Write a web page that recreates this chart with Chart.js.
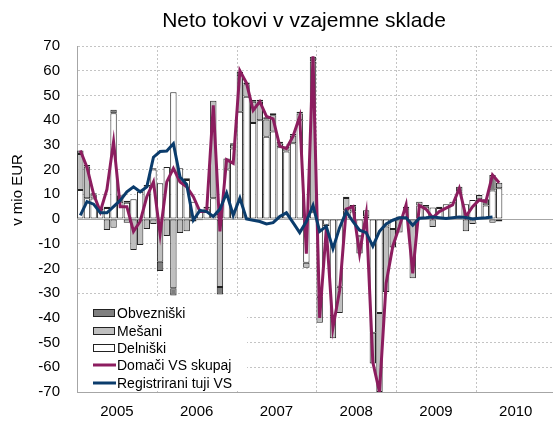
<!DOCTYPE html>
<html>
<head>
<meta charset="utf-8">
<script src="https://cdn.jsdelivr.net/npm/chart.js@4.4.1/dist/chart.umd.min.js"></script>
<style>
  html, body { margin: 0; padding: 0; background: #fff; overflow: hidden; }
  #wrap { position: relative; width: 553px; height: 427px; }
</style>
</head>
<body>
<div id="wrap"><canvas id="c" width="553" height="427"></canvas></div>
<script>
/* ---- podatki (mesečno, jan 2005 - apr 2010, mio EUR) ---- */
const years = ["2005", "2006", "2007", "2008", "2009", "2010"];

const delniski = [
  11.7, 8.4, 8.3, 3.5, 4.5, 42.8, 7, 6.6, 8, 11,
  13.3, 20, 14.5, 21, 51.3, 20.5, 15.8, 7, 3, 4.2,
  8.4, 2, 20, 28.5, 43.4, 49.5, 38.8, 40, 33.3, 35.4,
  29, 27.3, 30.6, 40, -17.7, 2.7, -31.5, -2.3, -39.3, -27.4,
  3.5, 3, -7, 1, -46, -38, -3, -4, 1, 4.3,
  null, 5.5, 5, 4.7, 4.5, 6, 7, 11, 6, 7.7,
  8, 5.5, 11.5, 12.4
];
const mesani = [
  14.6, 12.8, 1.6, 0.8, -4.5, -3.5, 2.5, -1.5, -12.5, -10.5,
  -4, -2, -17.3, -6.9, -28, -5.7, -5, -1, -0.5, 0.8,
  39.4, -27.5, 4.5, 1.5, 15, 5, 8.6, 7.5, 7, 6.6,
  1.6, 1.3, 3.2, 2.7, -2, 61, -10.5, -0.5, -9, -10.6,
  5, 2.2, -7, 2.5, -12.5, -32, -26.5, -7.5, -5.5, null,
  -24, 1.5, null, -3.2, 0.5, null, null, null, -5, -2,
  1.7, null, -1.5, 2.3
];
const obvezniski = [
  1.4, 0.7, 0.5, 0.3, 0.5, 1.4, 0.3, 0.8, null, null,
  0.5, 0.5, -3.7, null, -3, null, 0.7, null, null, null,
  null, -3, null, 0.6, 1.2, 0.7, 0.8, 0.8, 0.9, 0.8,
  0.7, 0.7, 0.6, 0.7, null, 2, null, null, null, null,
  0.5, 0.5, null, null, null, null, null, null, null, 0.7,
  null, null, 0.7, null, null, null, null, 2, null, null,
  null, 2.5, 6.3, -1
];
const domaciVS = [
  27.7, 21, 10, 3, 12, 31.3, 5, 5, -5, -1,
  9, 15, -6, 15, 20.5, 15, 13, 9, 3, 3,
  46, -5, 24, 22.5, 60, 55, 44, 47.5, 41.5, 40.5,
  29.5, 28.5, 33.5, 41.5, -14, 65.8, -40, -4, -44, -29,
  4, 5, -14, 2, -58, -70, -26, -11, -3, 5.7,
  -22, 5.5, 4, 0.5, 3, 4.4, 5.7, 12.4, 1, 5,
  7.7, 7, 17.8, 14.7
];
const tujiVS = [
  1.5, 7, 6, 2.5, 2.5, 5, 7.5, 11, 13, 11,
  13, 25, 27.3, 27.5, 30.5, 17, 14, -0.5, 3.5, 3,
  1, 4, 10.5, 1.5, 8.5, 0, -0.5, -1, -2, -1.5,
  1, 2.5, -1.5, -5.5, -1, 5.5, -5, -3, -12, -3.5,
  3, -1, -4.5, -5.5, -11, -5, -2, -0.5, 0.5, 0.5,
  -2.5, 0.3, 0.5, 0.8, 0.5, 0.2, 0.5, 0.8, 0.6, 0,
  0.3, 0.5, 0.8
];

const yMin = -70, yMax = 70, yStep = 10;

const FONT = "'Liberation Sans', Arial, sans-serif";
const C_PURPLE = "#8c1d5f";
const C_BLUE = "#0b3c6c";
const C_GRID = "#c4c4c4";

// meseci -> točke {x, y}
const pts = arr => arr.map((v, i) => ({ x: i, y: v }));

// meje let (navpična mreža) in sredine let (oznake)
const yearBounds = years.map((_, k) => k * 12 - 0.5);
const yearCenters = years.map((_, k) => k * 12 + 5.5);

/* ---- dodatki: naslov, os Y, mreža let, ničelna črta, legenda ---- */
const deco = {
  id: "deco",
  beforeDatasetsDraw(chart) {
    const { ctx, chartArea: a, scales: { x, y } } = chart;
    ctx.save();
    // navpične črte med leti
    ctx.strokeStyle = C_GRID;
    ctx.lineWidth = 1;
    ctx.setLineDash([2, 2]);
    yearBounds.slice(1).forEach(v => {
      const px = Math.round(x.getPixelForValue(v)) + 0.5;
      ctx.beginPath();
      ctx.moveTo(px, a.top);
      ctx.lineTo(px, a.bottom);
      ctx.stroke();
    });
    // ničelna črta
    ctx.setLineDash([]);
    const y0 = Math.round(y.getPixelForValue(0)) + 0.5;
    ctx.strokeStyle = "#a6a6a6";
    ctx.beginPath();
    ctx.moveTo(a.left, y0);
    ctx.lineTo(a.right, y0);
    ctx.stroke();
    ctx.restore();
  },
  afterDatasetsDraw(chart) {
    const ctx = chart.ctx;
    ctx.save();
    ctx.fillStyle = "#fff";
    ctx.fillRect(78, 297, 169, 94);

    const items = [
      { t: "Obvezniški", type: "box", fill: "#7f7f7f" },
      { t: "Mešani", type: "box", fill: "#bfbfbf" },
      { t: "Delniški", type: "box", fill: "#ffffff" },
      { t: "Domači VS skupaj", type: "line", col: C_PURPLE },
      { t: "Registrirani tuji VS", type: "line", col: C_BLUE }
    ];
    const rows = [313, 331, 348, 365, 383];
    ctx.font = "14px " + FONT;
    ctx.textBaseline = "middle";
    ctx.textAlign = "left";
    items.forEach((it, i) => {
      const cy = rows[i];
      if (it.type === "box") {
        ctx.fillStyle = it.fill;
        ctx.fillRect(93.5, cy - 3.5, 21, 7);
        ctx.strokeStyle = "#222";
        ctx.lineWidth = 1;
        ctx.strokeRect(93.5, cy - 3.5, 21, 7);
      } else {
        ctx.strokeStyle = it.col;
        ctx.lineWidth = 3;
        ctx.beginPath();
        ctx.moveTo(93, cy);
        ctx.lineTo(116, cy);
        ctx.stroke();
      }
      ctx.fillStyle = "#000";
      ctx.fillText(it.t, 117, cy + 1);
    });
    ctx.restore();
  },
  afterDraw(chart) {
    const ctx = chart.ctx;
    ctx.save();
    ctx.fillStyle = "#000";
    ctx.textAlign = "center";
    ctx.textBaseline = "middle";
    ctx.font = "21px " + FONT;
    ctx.fillText("Neto tokovi v vzajemne sklade", 304, 21);

    ctx.translate(18, 190);
    ctx.rotate(-Math.PI / 2);
    ctx.font = "15px " + FONT;
    ctx.fillText("v mio EUR", 0, 0);
    ctx.restore();
  }
};

const barBase = {
  type: "bar",
  stack: "skladi",
  borderColor: "#222",
  borderWidth: 1,
  borderSkipped: false,
  categoryPercentage: 0.96,
  barPercentage: 1
};

new Chart(document.getElementById("c"), {
  type: "bar",
  data: {
    datasets: [
      {
        type: "line", label: "Registrirani tuji VS", stack: "l2",
        data: pts(tujiVS), borderColor: C_BLUE, borderWidth: 3,
        pointRadius: 0, tension: 0, fill: false
      },
      {
        type: "line", label: "Domači VS skupaj", stack: "l1",
        data: pts(domaciVS), borderColor: C_PURPLE, borderWidth: 3,
        pointRadius: 0, tension: 0, fill: false
      },
      { ...barBase, label: "Delniški", data: pts(delniski), backgroundColor: "#ffffff" },
      { ...barBase, label: "Mešani", data: pts(mesani), backgroundColor: "#bfbfbf" },
      { ...barBase, label: "Obvezniški", data: pts(obvezniski), backgroundColor: "#7f7f7f" }
    ]
  },
  options: {
    responsive: false,
    devicePixelRatio: 1,
    animation: false,
    events: [],
    layout: { padding: { top: 46, right: 0, bottom: 0, left: 0 } },
    plugins: {
      legend: { display: false },
      title: { display: false },
      tooltip: { enabled: false }
    },
    scales: {
      x: {
        type: "linear",
        stacked: true,
        min: -0.5,
        max: 71.1,
        offset: false,
        afterBuildTicks: s => {
          s.ticks = yearCenters.map(v => ({ value: v }));
        },
        afterFit: s => { s.height = 35; },
        ticks: {
          autoSkip: false,
          maxRotation: 0,
          padding: 11,
          color: "#000",
          font: { family: FONT, size: 15 },
          callback: v => {
            const k = yearCenters.indexOf(v);
            return k >= 0 ? years[k] : "";
          }
        },
        grid: { display: false, offset: false, drawTicks: false },
        border: { display: true, color: "#a6a6a6", width: 1 }
      },
      y: {
        stacked: true,
        min: yMin,
        max: yMax,
        afterFit: s => { s.width = 77; },
        ticks: {
          stepSize: yStep,
          padding: 17,
          color: "#000",
          font: { family: FONT, size: 15 }
        },
        grid: { drawTicks: false, color: C_GRID, lineWidth: 1 },
        border: { display: true, color: "#a6a6a6", width: 1, dash: [2, 2] }
      }
    }
  },
  plugins: [deco]
});
</script>
</body>
</html>
